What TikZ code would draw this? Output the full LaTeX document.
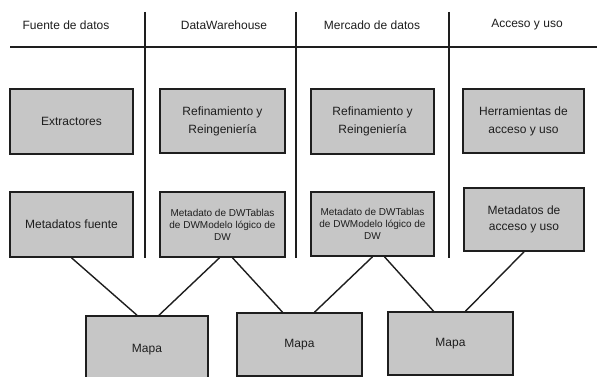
\documentclass[tikz,border=0pt]{standalone}
\usepackage{fontspec}
\setmainfont{Liberation Sans}
\usetikzlibrary{calc}
\definecolor{boxgray}{RGB}{198,198,198}
\definecolor{ink}{RGB}{30,30,30}
\begin{document}
\begin{tikzpicture}[x=1pt,y=-1pt,
  box/.style={draw=ink, line width=1.6pt, fill=boxgray, inner sep=0pt, align=center, text=ink, font=\fontsize{12}{18}\selectfont},
  smalltext/.style={font=\fontsize{10}{12}\selectfont},
  head/.style={font=\fontsize{12}{14}\selectfont, text=ink, inner sep=0pt},
  rulerline/.style={draw=ink, line width=1.4pt},
  link/.style={draw=ink, line width=1.4pt}]
\useasboundingbox (0,0) rectangle (597,377);
\fill[white] (0,0) rectangle (597,377);
% headers
\node[head] (h1) at (66,25) {Fuente de datos};
\node[head] (h2) at (224,25) {DataWarehouse};
\node[head] (h3) at (372,25) {Mercado de datos};
\node[head] (h4) at (527,25) {Acceso y uso};
\draw[rulerline] (10,47) -- (597,47);
\draw[rulerline] (145,12) -- (145,258);
\draw[rulerline] (296,12) -- (296,258);
\draw[rulerline] (449,12) -- (449,258);
% first row
\node[box, minimum width=123pt, minimum height=65pt] (ext) at (71.5,121.5) {Extractores};
\node[box, minimum width=125pt, minimum height=64pt] (rdw) at (222.5,121) {Refinamiento y\\Reingeniería};
\node[box, minimum width=123pt, minimum height=65pt] (rmd) at (372.5,121.5) {Refinamiento y\\Reingeniería};
\node[box, minimum width=121pt, minimum height=64pt] (her) at (523.5,121) {Herramientas de\\acceso y uso};
% second row
\node[box, minimum width=123pt, minimum height=65pt] (mf) at (71.5,224.5) {Metadatos fuente};
\node[box, smalltext, minimum width=125pt, minimum height=65pt] (mdw) at (222.5,224.5) {Metadato de DWTablas\\de DWModelo lógico de\\DW};
\node[box, smalltext, minimum width=123pt, minimum height=64pt] (mmd) at (372.5,224) {Metadato de DWTablas\\de DWModelo lógico de\\DW};
\node[box, minimum width=120pt, minimum height=63pt] (mac) at (524,219.5) {Metadatos de\\[-2pt]acceso y uso};
% maps
\node[box, minimum width=122pt, minimum height=68pt] (m1) at (147,350) {Mapa};
\node[box, minimum width=125pt, minimum height=63pt] (m2) at (299.5,344.5) {Mapa};
\node[box, minimum width=125pt, minimum height=63pt] (m3) at (450.5,343.5) {Mapa};
% connectors
\draw[link] (mf.south) -- ($(m1.north)+(-10,0)$);
\draw[link] ($(mdw.south)+(-3,0)$) -- ($(m1.north)+(12,0)$);
\draw[link] ($(mdw.south)+(10,0)$) -- ($(m2.north)+(-17,0)$);
\draw[link] (mmd.south) -- ($(m2.north)+(15,0)$);
\draw[link] ($(mmd.south)+(12,0)$) -- ($(m3.north)+(-17,0)$);
\draw[link] (mac.south) -- ($(m3.north)+(15,0)$);
\end{tikzpicture}
\end{document}
